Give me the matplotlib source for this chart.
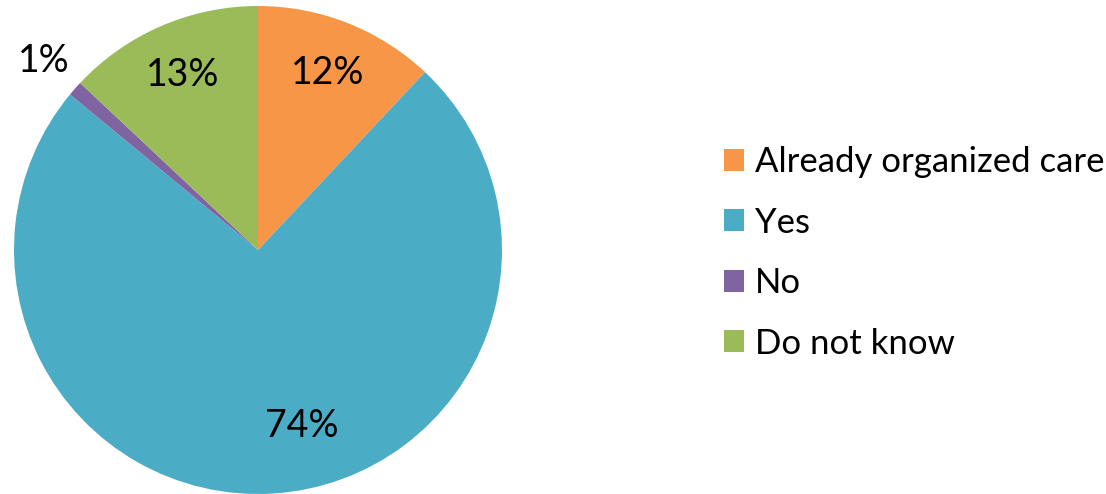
import matplotlib.pyplot as plt
import numpy as np

# survey answers
categories = ["Already organized care", "Yes", "No", "Do not know"]
shares = [12, 74, 1, 13]
colors = ["#F79646", "#4BACC6", "#8064A2", "#9BBB59"]

plt.rcParams['font.family'] = ['Lato', 'DejaVu Sans']

fig = plt.figure(figsize=(11.06, 4.94), dpi=100)
ax = fig.add_axes([14 / 1106, 0, 488 / 1106, 488 / 494])

wedges, texts, autotexts = ax.pie(
    shares, colors=colors, startangle=90, counterclock=False,
    autopct='%1.0f%%', pctdistance=0.78, radius=1,
    textprops={'fontsize': 27, 'color': 'black'},
)
ax.set_xlim(-1, 1)
ax.set_ylim(-1, 1)
ax.set_aspect('equal')

# nudge labels the way the original chart placed them
for w, t in zip(wedges, autotexts):
    mid = np.deg2rad((w.theta1 + w.theta2) / 2)
    if w.theta2 - w.theta1 < 10:
        r = 1.17
    else:
        r = 0.78
    t.set_position((r * np.cos(mid), r * np.sin(mid)))
autotexts[1].set_position((0.18, -0.72))

leg = fig.legend(wedges, categories, loc='center left',
                 bbox_to_anchor=(0.626, 0.488), frameon=False,
                 fontsize=25, handlelength=0.6, handleheight=0.6,
                 handletextpad=0.3, labelspacing=0.82)

fig.savefig("out.png", dpi=100)
